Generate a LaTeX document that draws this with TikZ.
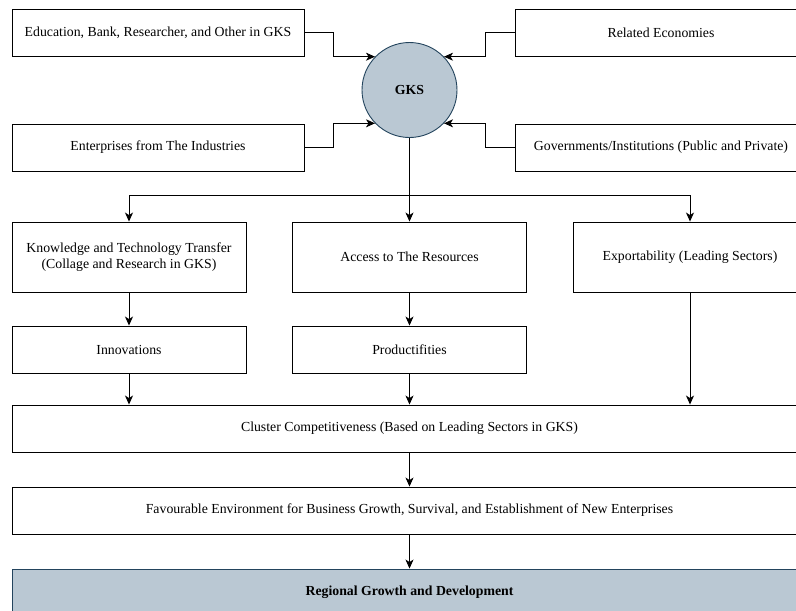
\documentclass[tikz,border=0pt]{standalone}
\usepackage{fontspec}
\setmainfont{Liberation Serif}
\usetikzlibrary{arrows.meta}
\definecolor{gksfill}{HTML}{BAC8D3}
\definecolor{gksline}{HTML}{23445D}
\newcommand{\boxfont}{\fontsize{13.8}{16.5}\selectfont}
\tikzset{
	box/.style={draw, line width=0.9pt, minimum width=292pt, minimum height=47pt, inner sep=0pt, align=center, font=\boxfont},
	midbox/.style={box, minimum width=234pt},
	widebox/.style={box, minimum width=795pt},
	hub/.style={circle, draw=gksline, fill=gksfill, line width=0.9pt, minimum size=95pt, inner sep=0pt, font=\boxfont\bfseries},
	link/.style={line width=0.9pt, -{Stealth[length=9pt, width=8pt, inset=2.5pt]}}
}
\begin{document}
\begin{tikzpicture}[x=1pt, y=-1pt]
					\clip (0,0) rectangle (796,611);
					%Depth 0
					\node[hub] (gks) at (409.5,90) {GKS};
					\node[box] (edu) at (158,32.5) {Education, Bank, Researcher, and Other in GKS};
					\node[box] (ent) at (158,147.5) {Enterprises from The Industries};
					\node[box] (rel) at (661,32.5) {Related Economies};
					\node[box] (gov) at (661,147.5) {Governments/Institutions (Public and Private)};
					\draw[link] (edu.east) -- ++(29,0) |- (gks.136);
					\draw[link] (ent.east) -- ++(29,0) |- (gks.-136);
					\draw[link] (rel.west) -- ++(-29,0) |- (gks.44);
					\draw[link] (gov.west) -- ++(-29,0) |- (gks.-44);
					%Depth 1
					\node[midbox, minimum height=70pt] (know) at (129,257) {Knowledge and Technology Transfer\\(Collage and Research in GKS)};
					\node[midbox, minimum height=70pt] (acc) at (409.5,257) {Access to The Resources};
					\node[midbox, minimum height=70pt] (exp) at (690,257) {Exportability (Leading Sectors)};
					\coordinate (fork) at (409.5,195);
					\draw[line width=0.9pt] (gks.south) -- (fork);
					\draw[link] (fork) -| (know.north);
					\draw[link] (fork) -- (acc.north);
					\draw[link] (fork) -| (exp.north);
					%Depth 2
					\node[midbox] (inno) at (129,349.5) {Innovations};
					\node[midbox] (prod) at (409.5,349.5) {Productifities};
					\draw[link] (know) -- (inno);
					\draw[link] (acc) -- (prod);
					%Depth 3
					\node[widebox] (clus) at (409.5,428.5) {Cluster Competitiveness (Based on Leading Sectors in GKS)};
					\node[widebox] (fav) at (409.5,510.5) {Favourable Environment for Business Growth, Survival, and Establishment of New Enterprises};
					\node[widebox, draw=gksline, fill=gksfill, font=\boxfont\bfseries] (reg) at (409.5,592.5) {Regional Growth and Development};
					\draw[link] (inno.south) -- (inno.south |- clus.north);
					\draw[link] (prod.south) -- (prod.south |- clus.north);
					\draw[link] (exp.south) -- (exp.south |- clus.north);
					\draw[link] (clus) -- (fav);
					\draw[link] (fav) -- (reg);
					
					\end{tikzpicture}
\end{document}
